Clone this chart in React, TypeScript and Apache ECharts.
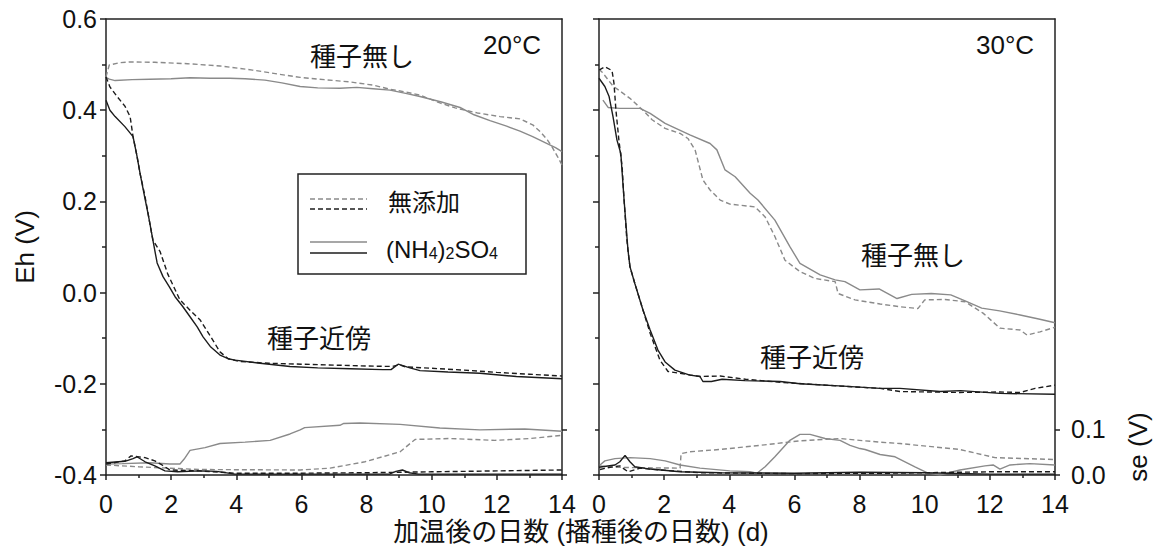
import React, { useEffect, useRef } from "react";
import * as echarts from "echarts";

// ---- data: [day, value] ----
// 20°C Eh (V)
const L_noseedCtrl: number[][] = [[0,0.473],[0.1,0.499],[0.4,0.504],[0.74,0.506],[1.5,0.505],[2.5,0.502],[3.5,0.497],[4.5,0.488],[5.3,0.479],[5.96,0.472],[6.7,0.467],[7.49,0.462],[8.2,0.455],[8.72,0.446],[9.2,0.44],[9.64,0.433],[10.25,0.416],[10.72,0.405],[11.4,0.394],[12.1,0.386],[12.71,0.381],[13.1,0.368],[13.33,0.353],[13.55,0.335],[13.69,0.32],[13.85,0.3],[14,0.28]];
const L_noseedNH4: number[][] = [[0,0.472],[0.1,0.468],[0.28,0.465],[0.8,0.467],[1.35,0.468],[2.0,0.469],[2.58,0.471],[3.2,0.47],[3.8,0.47],[4.27,0.469],[4.88,0.466],[5.4,0.46],[5.96,0.452],[6.5,0.449],[7.18,0.448],[7.7,0.45],[8.2,0.447],[8.72,0.444],[9.2,0.437],[9.64,0.43],[10.3,0.418],[10.87,0.406],[11.3,0.39],[11.79,0.377],[12.3,0.365],[12.71,0.354],[13.1,0.342],[13.48,0.329],[13.8,0.318],[14,0.309]];
const L_nearCtrl: number[][] = [[0,0.473],[0.12,0.451],[0.34,0.43],[0.58,0.409],[0.74,0.386],[0.83,0.342],[0.95,0.3],[1.05,0.26],[1.2,0.21],[1.3,0.17],[1.44,0.115],[1.66,0.09],[1.9,0.04],[2.27,-0.016],[2.6,-0.04],[2.89,-0.06],[3.2,-0.095],[3.5,-0.13],[3.75,-0.145],[4.1,-0.151],[5,-0.155],[6,-0.157],[7,-0.159],[8,-0.161],[8.8,-0.162],[9.0,-0.158],[9.2,-0.163],[10,-0.166],[11,-0.17],[12,-0.175],[13,-0.179],[14,-0.183]];
const L_nearNH4: number[][] = [[0,0.422],[0.12,0.4],[0.28,0.386],[0.58,0.364],[0.83,0.342],[0.95,0.3],[1.05,0.26],[1.2,0.205],[1.3,0.17],[1.44,0.115],[1.57,0.065],[1.75,0.035],[1.95,0.012],[2.12,-0.009],[2.35,-0.03],[2.58,-0.053],[2.8,-0.075],[2.98,-0.097],[3.2,-0.118],[3.5,-0.137],[3.75,-0.145],[3.96,-0.148],[4.73,-0.155],[5.65,-0.162],[6.5,-0.165],[7.5,-0.167],[8.5,-0.169],[8.75,-0.169],[8.97,-0.157],[9.33,-0.165],[9.64,-0.171],[10.5,-0.174],[11.48,-0.177],[12.6,-0.184],[14,-0.189]];
// 20°C se (V)
const L_seNoseedNH4: number[][] = [[0,0.024],[0.5,0.025],[1.35,0.027],[1.96,0.024],[2.27,0.024],[2.4,0.035],[2.58,0.054],[3.04,0.06],[3.5,0.069],[4.27,0.072],[5.04,0.076],[5.65,0.09],[5.96,0.099],[6.1,0.104],[7.18,0.109],[7.3,0.113],[7.8,0.114],[9.03,0.111],[10.25,0.103],[11.48,0.099],[12.86,0.101],[14,0.096]];
const L_seNoseedCtrl: number[][] = [[0,0.022],[1,0.018],[2.9,0.012],[5.96,0.011],[6.88,0.015],[7.95,0.029],[9.03,0.051],[9.49,0.078],[10.56,0.08],[11.94,0.076],[13.02,0.08],[14,0.087]];
const L_seNearNH4: number[][] = [[0,0.027],[0.58,0.03],[0.83,0.036],[0.95,0.04],[1.2,0.029],[1.5,0.02],[1.81,0.009],[2.2,0.007],[2.89,0.009],[3.4,0.008],[3.96,0.002],[6,0.002],[8.7,0.002],[8.9,0.008],[9.1,0.011],[9.3,0.005],[9.6,0.002],[14,0.002]];
const L_seNearCtrl: number[][] = [[0,0.024],[0.58,0.031],[0.77,0.042],[1.2,0.038],[1.5,0.031],[1.72,0.022],[1.96,0.011],[2.89,0.009],[3.96,0.004],[6,0.004],[8,0.005],[10,0.007],[12,0.009],[14,0.011]];
// 30°C Eh (V)
const R_noseedCtrl: number[][] = [[0,0.49],[0.09,0.484],[0.43,0.453],[0.95,0.426],[1.35,0.4],[1.63,0.379],[2.03,0.36],[2.49,0.349],[2.73,0.338],[2.95,0.313],[3.19,0.247],[3.41,0.225],[3.72,0.203],[4.02,0.194],[4.79,0.188],[5.1,0.166],[5.4,0.123],[5.71,0.071],[6.17,0.046],[6.63,0.031],[7.25,0.024],[7.34,-0.002],[7.86,-0.016],[8.63,-0.025],[9.24,-0.031],[9.79,-0.035],[10.0,-0.016],[10.62,-0.015],[11.24,-0.02],[11.79,-0.045],[12.31,-0.078],[12.93,-0.082],[13.14,-0.093],[13.54,-0.086],[14,-0.076]];
const R_noseedNH4: number[][] = [[0.12,0.422],[0.28,0.406],[0.64,0.404],[1.26,0.404],[1.57,0.393],[2.03,0.371],[2.79,0.346],[3.41,0.327],[3.62,0.313],[3.87,0.269],[4.18,0.254],[4.64,0.218],[4.88,0.203],[5.4,0.159],[5.86,0.101],[6.17,0.064],[6.79,0.039],[7.25,0.028],[7.55,0.024],[8.01,0.006],[8.6,0.008],[9.15,-0.013],[9.6,-0.004],[10.2,-0.002],[10.8,-0.005],[11.24,-0.018],[11.75,-0.034],[12.3,-0.04],[12.93,-0.049],[13.5,-0.058],[14,-0.066]];
const R_nearCtrl: number[][] = [[0,0.488],[0.18,0.495],[0.4,0.487],[0.46,0.459],[0.52,0.4],[0.61,0.335],[0.71,0.276],[0.77,0.203],[0.85,0.12],[0.89,0.093],[0.95,0.057],[1.1,0.02],[1.35,-0.038],[1.57,-0.089],[1.87,-0.148],[2.12,-0.173],[2.49,-0.177],[3.1,-0.184],[3.72,-0.183],[4.5,-0.19],[5.6,-0.197],[7.4,-0.205],[8.63,-0.21],[9.24,-0.217],[11.08,-0.219],[12.31,-0.218],[12.93,-0.219],[13.39,-0.21],[14,-0.203]];
const R_nearNH4: number[][] = [[0,0.47],[0.18,0.452],[0.31,0.43],[0.43,0.386],[0.55,0.335],[0.67,0.305],[0.77,0.203],[0.89,0.093],[0.95,0.057],[1.1,0.02],[1.35,-0.038],[1.57,-0.082],[1.81,-0.126],[2.03,-0.152],[2.33,-0.17],[2.79,-0.181],[3.1,-0.184],[3.19,-0.195],[3.45,-0.195],[3.78,-0.19],[4.48,-0.193],[5.56,-0.195],[6.17,-0.2],[7.5,-0.205],[8.63,-0.21],[9.24,-0.21],[10.47,-0.217],[11.1,-0.215],[12.31,-0.221],[14,-0.223]];
// 30°C se (V)
const R_seNoseedNH4: number[][] = [[0.03,0.022],[0.18,0.031],[0.49,0.036],[0.95,0.038],[1.57,0.036],[2.03,0.031],[2.49,0.022],[3.1,0.015],[4.02,0.009],[4.64,0.007],[4.85,0.004],[5.1,0.018],[5.4,0.04],[5.86,0.076],[6.17,0.089],[6.48,0.089],[6.94,0.08],[7.4,0.076],[7.71,0.065],[8.01,0.058],[8.17,0.056],[8.63,0.045],[9.09,0.04],[9.7,0.018],[10.1,0.004],[10.47,0],[11.08,0.011],[11.85,0.02],[12.1,0.022],[12.31,0.013],[12.62,0.022],[13.23,0.025],[14,0.022]];
const R_seNoseedCtrl: number[][] = [[0.03,0.02],[0.34,0.017],[1.26,0.016],[2.49,0.015],[2.52,0.047],[2.79,0.051],[3.72,0.056],[4.94,0.065],[6.17,0.075],[7.4,0.08],[8.0,0.076],[8.63,0.072],[9.24,0.069],[11.08,0.056],[12.16,0.038],[14,0.034]];
const R_seNearNH4: number[][] = [[0,0.017],[0.49,0.022],[0.64,0.029],[0.8,0.043],[0.95,0.029],[1.1,0.018],[1.57,0.013],[2.49,0.007],[3.72,0.005],[6,0.004],[8,0.006],[10,0.005],[12,0.002],[14,0.002]];
const R_seNearCtrl: number[][] = [[0.03,0.012],[0.34,0.017],[0.64,0.02],[0.89,0.007],[1.26,0.015],[1.87,0.011],[3.1,0.005],[6,0.003],[9,0.004],[12,0.007],[14,0.007]];

const X_TITLE = "加温後の日数 (播種後の日数) (d)";
const Y_TITLE = "Eh (V)";
const SE_TITLE = "se (V)";
const LEG_CTRL = "無添加";
const PANEL_LABELS = ["20°C", "30°C"];
const NOSEED = "種子無し";
const NEAR = "種子近傍";

const FONT = "'Liberation Sans', 'Noto Sans CJK JP', sans-serif";
const GRAY = "#8a8a8a";
const BLACK = "#1c1c1c";
const AX = "#222";
const TICK_FS = 25;

function ln(data: number[][], xi: number, yi: number, color: string, dashed: boolean) {
  return {
    type: "line",
    data,
    xAxisIndex: xi,
    yAxisIndex: yi,
    showSymbol: false,
    symbol: "none",
    silent: true,
    lineStyle: { color, width: 1.4, type: dashed ? [5, 3] : "solid" },
  };
}

function xAxisBottom(grid: number) {
  return {
    type: "value", gridIndex: grid, position: "bottom", min: 0, max: 14, interval: 2,
    axisLine: { show: true, onZero: false, lineStyle: { color: AX, width: 1.5 } },
    axisTick: { show: true, inside: false, length: 5, lineStyle: { color: AX, width: 1.5 } },
    minorTick: { show: true, splitNumber: 2, length: 3, lineStyle: { color: AX, width: 1.5 } },
    axisLabel: { fontSize: TICK_FS, color: "#111", fontFamily: FONT, margin: 16 },
    splitLine: { show: false },
  };
}
function xAxisTop(grid: number) {
  return {
    type: "value", gridIndex: grid, position: "top", min: 0, max: 14, interval: 2,
    axisLine: { show: true, onZero: false, lineStyle: { color: AX, width: 1.5 } },
    axisTick: { show: false }, axisLabel: { show: false }, splitLine: { show: false },
  };
}
function ehAxis(grid: number, labels: boolean) {
  return {
    type: "value", gridIndex: grid, position: "left", min: -0.4, max: 0.6, interval: 0.2,
    name: labels ? Y_TITLE : "",
    nameLocation: "middle", nameGap: 68, nameRotate: 90,
    nameTextStyle: { fontSize: 26, color: "#111", fontFamily: FONT },
    axisLine: { show: true, onZero: false, lineStyle: { color: AX, width: 1.5 } },
    axisTick: { show: true, inside: false, length: 6, lineStyle: { color: AX, width: 1.5 } },
    minorTick: { show: true, splitNumber: 2, length: 4, lineStyle: { color: AX, width: 1.5 } },
    axisLabel: { show: labels, fontSize: TICK_FS, color: "#111", fontFamily: FONT, margin: 9,
      formatter: (v: number) => v.toFixed(1) },
    splitLine: { show: false },
  };
}
function seAxis(grid: number, labels: boolean) {
  return {
    type: "value", gridIndex: grid, position: "right", min: 0, max: 1.0, interval: 0.1,
    axisLine: { show: true, onZero: false, lineStyle: { color: AX, width: 1.5 } },
    axisTick: { show: true, inside: false, length: 5, customValues: [0, 0.1], lineStyle: { color: AX, width: 1.5 } },
    axisLabel: { show: labels, fontSize: TICK_FS, color: "#111", fontFamily: FONT, margin: 16,
      customValues: [0, 0.1], formatter: (v: number) => v.toFixed(1) },
    splitLine: { show: false },
  };
}

export default function App() {
  const ref = useRef<HTMLDivElement>(null);
  useEffect(() => {
    if (!ref.current) return;
    const chart = echarts.init(ref.current, null, { renderer: "svg" });
    const txt = (text: string, x: number, y: number, size: number, align = "left", extra: any = {}) => ({
      type: "text", x, y, z: 100,
      style: { text, fontSize: size, fontFamily: FONT, fill: "#111", textAlign: align, textVerticalAlign: "middle", ...extra },
    });
    chart.setOption({
      animation: false,
      backgroundColor: "#fff",
      grid: [
        { left: 106, top: 19, width: 456, height: 456, outerBoundsMode: "none", containLabel: false },
        { left: 599, top: 19, width: 456, height: 456, outerBoundsMode: "none", containLabel: false },
      ],
      xAxis: [xAxisBottom(0), xAxisTop(0), xAxisBottom(1), xAxisTop(1)],
      yAxis: [ehAxis(0, true), seAxis(0, false), ehAxis(1, false), seAxis(1, true)],
      series: [
        ln(L_noseedCtrl, 0, 0, GRAY, true),
        ln(L_noseedNH4, 0, 0, GRAY, false),
        ln(L_nearCtrl, 0, 0, BLACK, true),
        ln(L_nearNH4, 0, 0, BLACK, false),
        ln(L_seNoseedNH4, 0, 1, GRAY, false),
        ln(L_seNoseedCtrl, 0, 1, GRAY, true),
        ln(L_seNearNH4, 0, 1, BLACK, false),
        ln(L_seNearCtrl, 0, 1, BLACK, true),
        ln(R_noseedCtrl, 2, 2, GRAY, true),
        ln(R_noseedNH4, 2, 2, GRAY, false),
        ln(R_nearCtrl, 2, 2, BLACK, true),
        ln(R_nearNH4, 2, 2, BLACK, false),
        ln(R_seNoseedNH4, 2, 3, GRAY, false),
        ln(R_seNoseedCtrl, 2, 3, GRAY, true),
        ln(R_seNearNH4, 2, 3, BLACK, false),
        ln(R_seNearCtrl, 2, 3, BLACK, true),
      ],
      graphic: [
        txt(X_TITLE, 581, 532, 26, "center"),
        { type: "text", x: 1138, y: 447, rotation: Math.PI / 2, z: 100,
          style: { text: SE_TITLE, fontSize: 26, fontFamily: FONT, fill: "#111", textAlign: "center", textVerticalAlign: "middle" } },
        txt(NOSEED, 310, 57, 26),
        txt(PANEL_LABELS[0], 483, 45, 26),
        txt(NEAR, 267, 339, 26),
        txt(NOSEED, 861, 256, 26),
        txt(NEAR, 760, 358, 26),
        txt(PANEL_LABELS[1], 976, 45, 26),
        // legend
        { type: "rect", z: 90, shape: { x: 298, y: 174, width: 228, height: 100 },
          style: { fill: "#fff", stroke: AX, lineWidth: 1.5 } },
        { type: "line", z: 95, shape: { x1: 310, y1: 199, x2: 367, y2: 199 }, style: { stroke: GRAY, lineWidth: 1.4, lineDash: [5, 3] } },
        { type: "line", z: 95, shape: { x1: 310, y1: 209, x2: 367, y2: 209 }, style: { stroke: BLACK, lineWidth: 1.4, lineDash: [5, 3] } },
        { type: "line", z: 95, shape: { x1: 310, y1: 242, x2: 367, y2: 242 }, style: { stroke: GRAY, lineWidth: 1.4 } },
        { type: "line", z: 95, shape: { x1: 310, y1: 253, x2: 367, y2: 253 }, style: { stroke: BLACK, lineWidth: 1.4 } },
        txt(LEG_CTRL, 388, 202, 24),
        { type: "text", x: 386, y: 247, z: 100,
          style: {
            text: "{m|(NH}{s|4}{m|)}{s|2}{m|SO}{s|4}",
            fontFamily: FONT, textVerticalAlign: "middle", textAlign: "left",
            rich: {
              m: { fontSize: 24, lineHeight: 28, fontFamily: FONT, fill: "#111", verticalAlign: "bottom" },
              s: { fontSize: 16, lineHeight: 16, fontFamily: FONT, fill: "#111", verticalAlign: "bottom" },
            },
          } },
      ],
    });
    return () => chart.dispose();
  }, []);
  return <div ref={ref} style={{ position: "fixed", left: 0, top: 0, width: 1158, height: 556, background: "#fff" }} />;
}
